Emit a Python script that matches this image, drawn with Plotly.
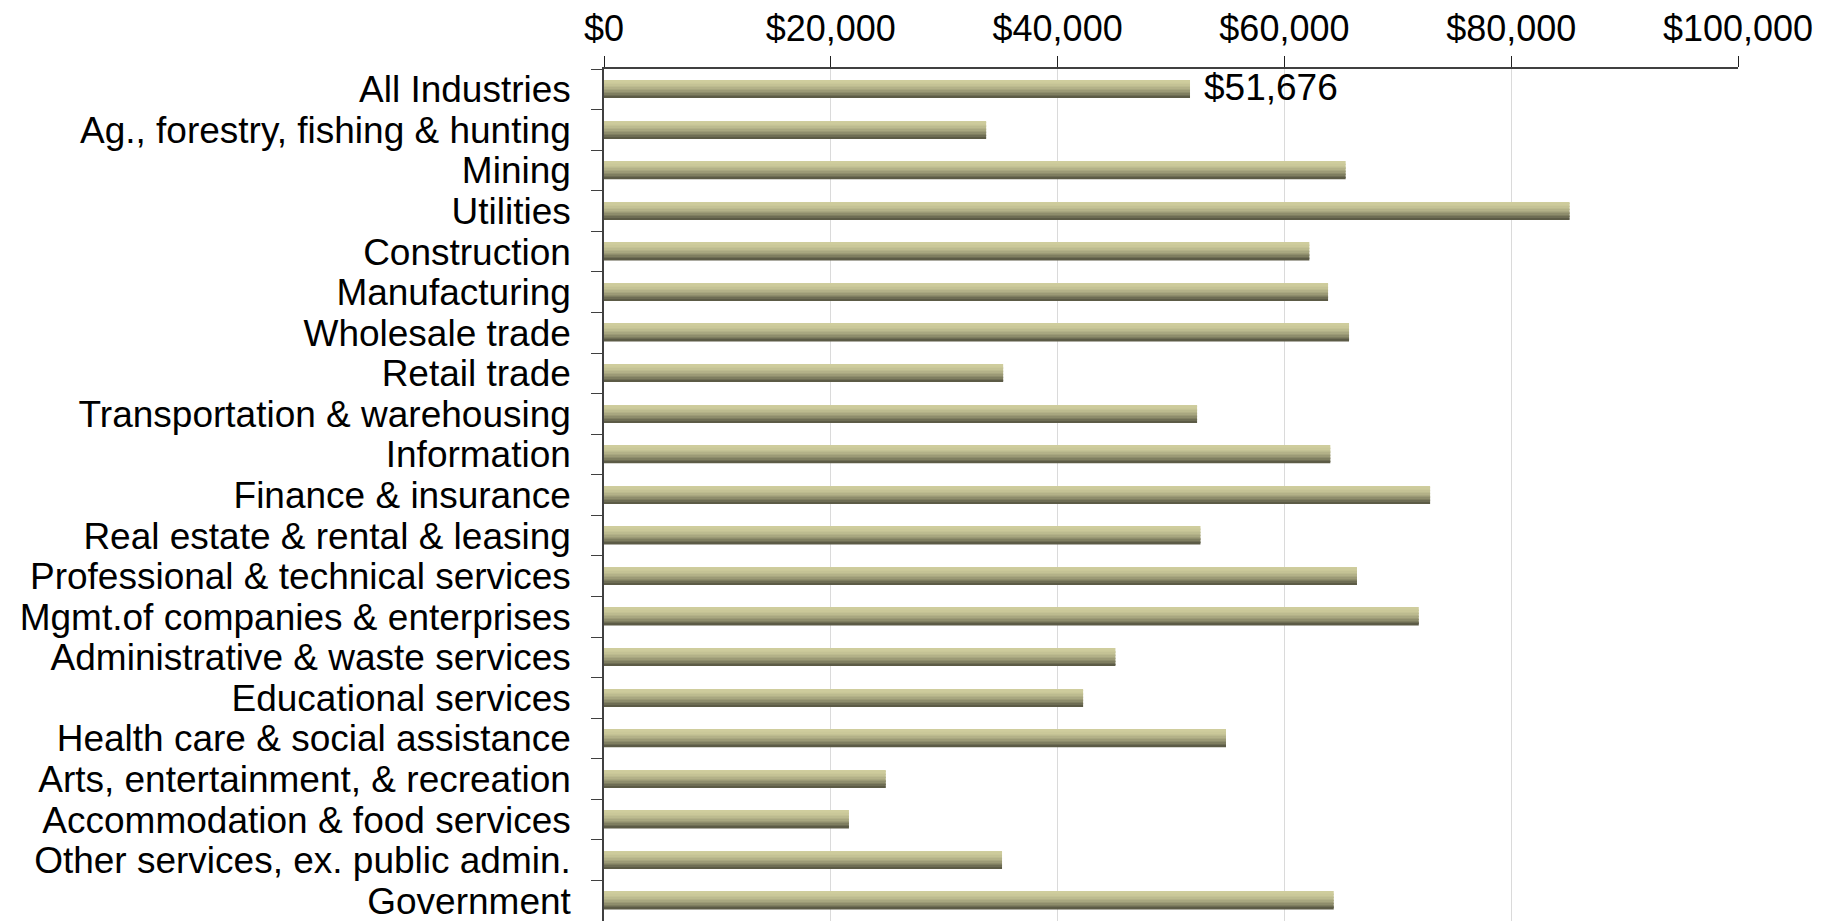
import plotly.graph_objs as go

industries = [
    "All Industries", "Ag., forestry, fishing & hunting", "Mining", "Utilities",
    "Construction", "Manufacturing", "Wholesale trade", "Retail trade",
    "Transportation & warehousing", "Information", "Finance & insurance",
    "Real estate & rental & leasing", "Professional & technical services",
    "Mgmt.of companies & enterprises", "Administrative & waste services",
    "Educational services", "Health care & social assistance",
    "Arts, entertainment, & recreation", "Accommodation & food services",
    "Other services, ex. public admin.", "Government",
]
avg_wage = [
    51676, 33700, 65400, 85150, 62200, 63850, 65700, 35200, 52300, 64050,
    72850, 52600, 66400, 71850, 45100, 42250, 54850, 24850, 21600, 35100, 64350,
]
x_ticks = [0, 20000, 40000, 60000, 80000, 100000]

FONT = "Liberation Sans, Arial, sans-serif"

# bar fill goes light khaki at top to dark olive at bottom; fake it with stripes
top_rgb = (207, 205, 157)
bottom_rgb = (92, 91, 70)
n_stripes = 12
bar_w = 0.43


def stripe_color(k):
    t = (k / (n_stripes - 1)) ** 1.8
    c = [round(a + (b - a) * t) for a, b in zip(top_rgb, bottom_rgb)]
    return 'rgb({0},{1},{2})'.format(*c)


traces = []
for k in range(n_stripes):
    traces.append(go.Bar(
        x=avg_wage, y=industries, orientation='h',
        width=bar_w / n_stripes + 0.002,
        offset=-bar_w / 2 + k * bar_w / n_stripes,
        marker=dict(color=stripe_color(k), line=dict(width=0)),
        showlegend=False, hoverinfo='x+y'))

# page body has an 8px margin, so the figure sits 8px right/down in the window
layout = go.Layout(
    width=1821, height=921,
    margin=dict(l=596, r=91, t=61, b=8, autoexpand=False),
    paper_bgcolor='white', plot_bgcolor='white',
    barmode='overlay',
    font=dict(family=FONT, size=36, color='black'),
    xaxis=dict(
        side='top', range=[0, 100000], tickmode='array', tickvals=x_ticks,
        ticktext=['${:,}'.format(v) for v in x_ticks],
        tickfont=dict(size=36),
        showgrid=True, gridcolor='#DADADA', gridwidth=1,
        showline=True, linecolor='#404040', linewidth=1.5,
        ticks='outside', ticklen=11, tickcolor='#202020',
        ticklabelstandoff=1, zeroline=False, fixedrange=True,
        automargin=False),
    yaxis=dict(
        categoryorder='array', categoryarray=industries,
        tickmode='array', tickvals=industries,
        tickfont=dict(size=37),
        range=[20.5, -0.5], tickson='boundaries',
        showline=True, linecolor='#404040', linewidth=1.5,
        ticks='outside', ticklen=11, tickcolor='#404040',
        ticklabelstandoff=24, showgrid=False, fixedrange=True,
        automargin=False),
    annotations=[dict(
        x=avg_wage[0], y=industries[0], xref='x', yref='y',
        text='${:,}'.format(avg_wage[0]), showarrow=False,
        xanchor='left', xshift=12, yshift=2,
        font=dict(family=FONT, size=37, color='black'))],
)

fig = go.Figure(data=traces, layout=layout)
fig.write_html("out.html")
